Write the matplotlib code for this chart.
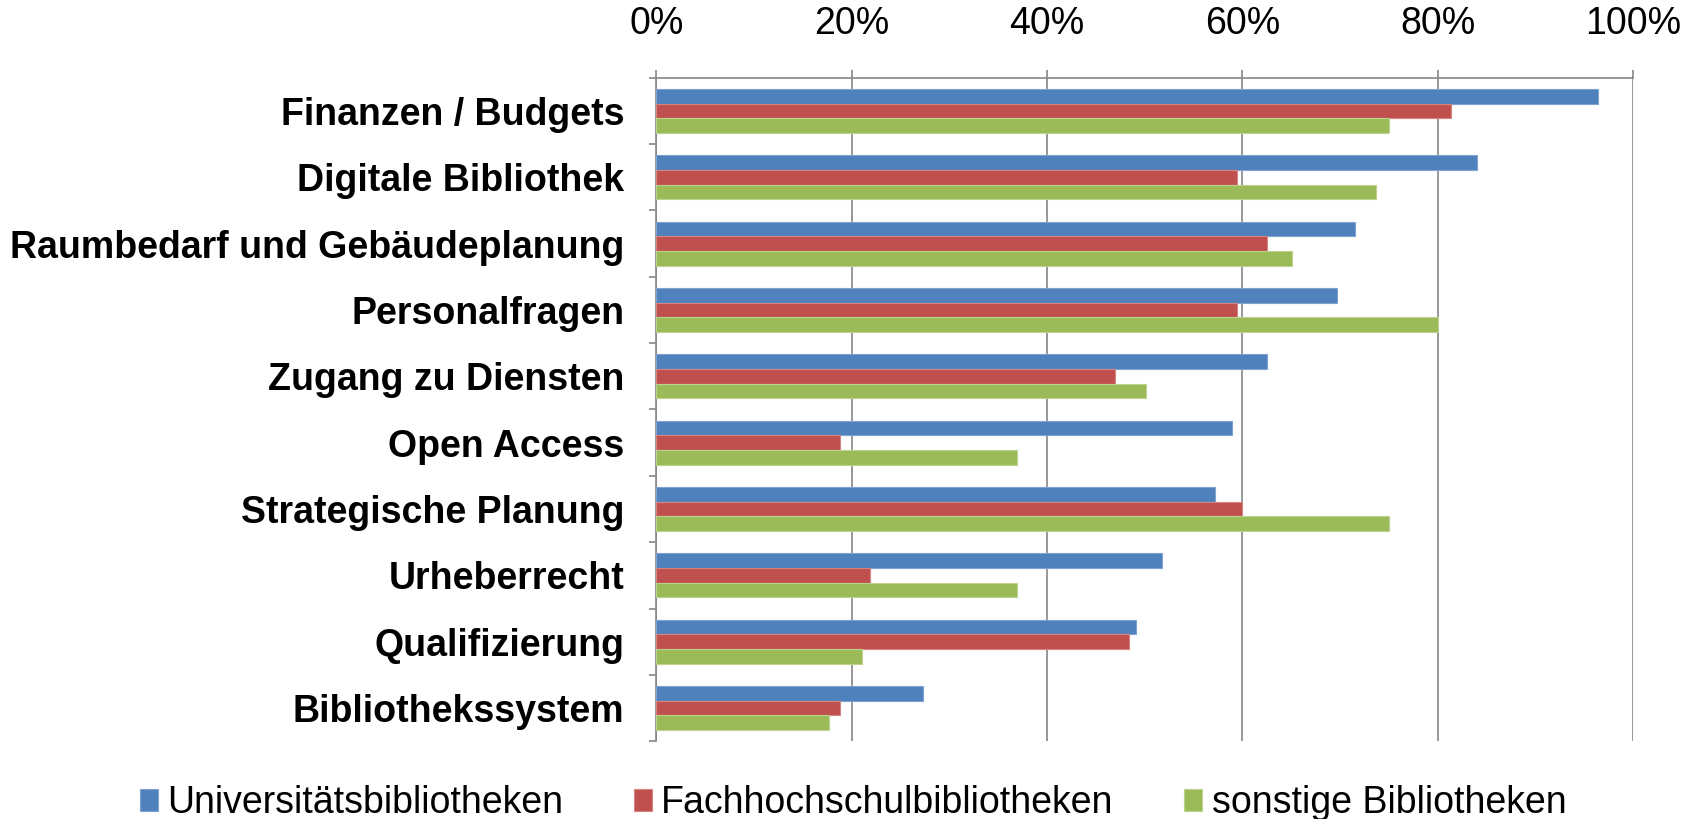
import matplotlib.pyplot as plt
import numpy as np
from matplotlib.ticker import PercentFormatter, FixedLocator

plt.rcParams['font.family'] = ['Liberation Sans', 'DejaVu Sans']

# Themen (von oben nach unten)
categories = [
    "Finanzen / Budgets",
    "Digitale Bibliothek",
    "Raumbedarf und Gebäudeplanung",
    "Personalfragen",
    "Zugang zu Diensten",
    "Open Access",
    "Strategische Planung",
    "Urheberrecht",
    "Qualifizierung",
    "Bibliothekssystem",
]

# Anteile in %
uni = [96.4, 84.0, 71.5, 69.7, 62.5, 58.9, 57.2, 51.8, 49.1, 27.3]
fh = [81.3, 59.4, 62.5, 59.4, 46.9, 18.8, 60.0, 21.9, 48.4, 18.8]
sonstige = [75.0, 73.7, 65.1, 80.0, 50.1, 36.9, 75.0, 36.9, 21.1, 17.7]

series = [
    ("Universitätsbibliotheken", uni, "#4F81BD", "#7FA3D1"),
    ("Fachhochschulbibliotheken", fh, "#C0504D", "#D68482"),
    ("sonstige Bibliotheken", sonstige, "#9BBB59", "#BCD28F"),
]

fig = plt.figure(figsize=(16.96, 8.19), dpi=100)
ax = fig.add_axes([0.387, 0.095, 0.576, 0.81])

y = np.arange(len(categories))
h = 0.222
for i, (name, vals, col, edge) in enumerate(series):
    ax.barh(y + (i - 1) * h, np.array(vals) / 100, height=h, color=col,
            edgecolor=edge, linewidth=0.8, label=name, zorder=3)

ax.set_xlim(0, 1)
ax.set_ylim(len(categories) - 0.5, -0.5)
ax.xaxis.tick_top()
ax.set_xticks(np.arange(0, 1.01, 0.2))
ax.xaxis.set_major_formatter(PercentFormatter(1.0, decimals=0))
ax.tick_params(axis='x', which='major', length=6, width=1.2, color='#868686',
               labelsize=27, pad=20)

ax.set_yticks(y)
ax.set_yticklabels(categories, fontsize=27, fontweight='bold')
ax.yaxis.set_minor_locator(FixedLocator(np.arange(-0.5, len(categories), 1)))
ax.tick_params(axis='y', which='major', length=0, pad=23)
ax.tick_params(axis='y', which='minor', length=5, width=1.2, color='#868686')

ax.grid(axis='x', color='#868686', linewidth=1.2, zorder=0)
for s in ['bottom', 'right']:
    ax.spines[s].set_visible(False)
for s in ['top', 'left']:
    ax.spines[s].set_color('#868686')
    ax.spines[s].set_linewidth(1.2)

fig.legend(loc='lower center', bbox_to_anchor=(0.503, -0.044), ncol=3,
           frameon=False, fontsize=27, handlelength=0.48, handleheight=0.5,
           handletextpad=0.25, columnspacing=1.88)

fig.savefig("out.png", dpi=100)
